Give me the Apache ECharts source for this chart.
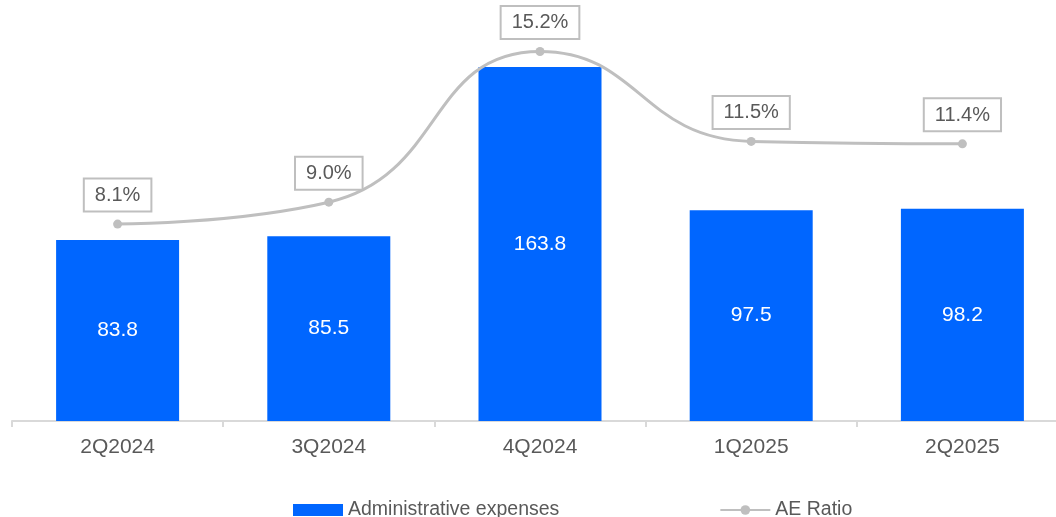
<!DOCTYPE html>
<html>
<head>
<meta charset="utf-8">
<style>
  html, body { margin: 0; padding: 0; background: #ffffff; }
  #chart { width: 1056px; height: 517px; }
</style>
<script src="https://cdn.jsdelivr.net/npm/echarts@6/dist/echarts.min.js"></script>
</head>
<body>
<div id="chart"></div>
<script>
// Quarterly administrative expenses and AE ratio
const quarters = ['2Q2024', '3Q2024', '4Q2024', '1Q2025', '2Q2025'];
const adminExpenses = [83.8, 85.5, 163.8, 97.5, 98.2];
const aeRatio = [8.1, 9.0, 15.2, 11.5, 11.4];

const textGray = '#595959';
const fontFamily = '"Liberation Sans", Arial, sans-serif';

const chart = echarts.init(document.getElementById('chart'), null, { renderer: 'canvas' });

chart.setOption({
  animation: false,
  backgroundColor: '#ffffff',
  textStyle: { fontFamily: fontFamily },
  // plot area runs a little past the right edge of the canvas
  grid: {
    left: 12, right: -12, top: 32, bottom: 96,
    containLabel: false,
    outerBoundsMode: 'none'
  },
  legend: {
    left: 293,
    bottom: -3,
    padding: 0,
    itemGap: 160,
    itemWidth: 50,
    itemHeight: 12,
    textStyle: { color: textGray, fontSize: 19.5, fontFamily: fontFamily },
    data: [
      { name: 'Administrative expenses', icon: 'rect' },
      { name: 'AE Ratio' }
    ]
  },
  xAxis: {
    type: 'category',
    data: quarters,
    axisLine: { lineStyle: { color: '#d9d9d9', width: 2 } },
    axisTick: { show: true, length: 6, lineStyle: { color: '#d9d9d9', width: 2 } },
    axisLabel: { color: textGray, fontSize: 21, margin: 16, fontFamily: fontFamily }
  },
  yAxis: [
    { type: 'value', min: 0, max: 180, show: false, splitLine: { show: false } },
    { type: 'value', min: 0, max: 16, show: false, splitLine: { show: false } }
  ],
  series: [
    {
      name: 'Administrative expenses',
      type: 'bar',
      data: adminExpenses,
      yAxisIndex: 0,
      barWidth: 123,
      itemStyle: { color: '#0066ff' },
      label: {
        show: true,
        position: 'inside',
        color: '#ffffff',
        fontSize: 21,
        fontFamily: fontFamily,
        formatter: p => p.value.toFixed(1)
      },
      z: 2
    },
    {
      name: 'AE Ratio',
      type: 'line',
      data: aeRatio,
      yAxisIndex: 1,
      smooth: 0.5,
      symbol: 'circle',
      symbolSize: 9,
      lineStyle: { color: '#bfbfbf', width: 3 },
      itemStyle: { color: '#bfbfbf' },
      label: {
        show: true,
        position: 'top',
        distance: 9,
        color: textGray,
        fontSize: 20,
        lineHeight: 20,
        fontFamily: fontFamily,
        backgroundColor: '#ffffff',
        borderColor: '#bfbfbf',
        borderWidth: 2,
        padding: [6, 10, 5, 10],
        formatter: p => p.value.toFixed(1) + '%'
      },
      z: 3
    }
  ]
});
</script>
</body>
</html>
